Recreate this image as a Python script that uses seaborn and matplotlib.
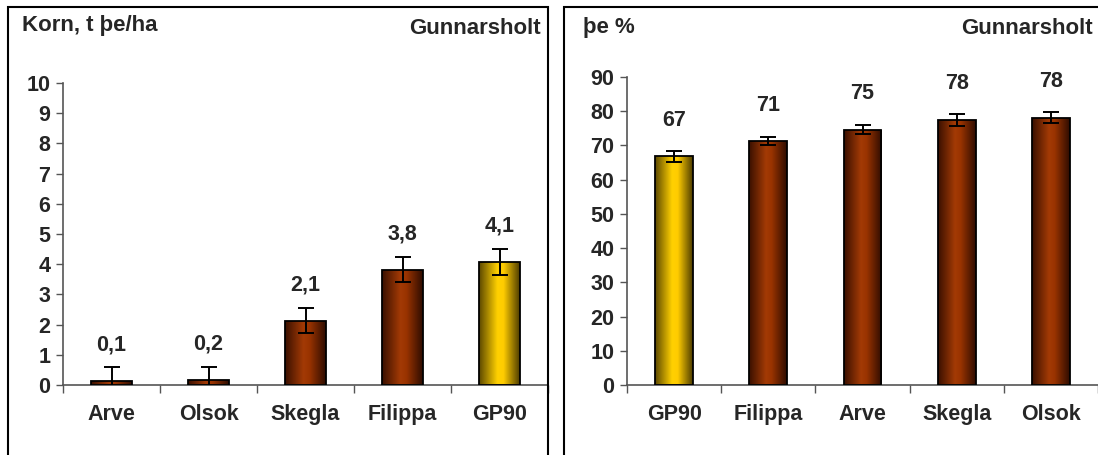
import numpy as np
import matplotlib.pyplot as plt
import seaborn as sns
from matplotlib.colors import LinearSegmentedColormap
from matplotlib.patches import Rectangle

sns.set_style("white")
plt.rcParams['font.family'] = ['Liberation Sans', 'DejaVu Sans']

# data
yield_names = ["Arve", "Olsok", "Skegla", "Filippa", "GP90"]
yield_vals = [0.14, 0.16, 2.13, 3.82, 4.08]
yield_err = [0.45, 0.44, 0.41, 0.42, 0.43]
yield_labels = ["0,1", "0,2", "2,1", "3,8", "4,1"]

dm_names = ["GP90", "Filippa", "Arve", "Skegla", "Olsok"]
dm_vals = [66.8, 71.2, 74.6, 77.5, 78.1]
dm_err = [1.7, 1.2, 1.4, 1.7, 1.6]
dm_labels = ["67", "71", "75", "78", "78"]

FS = 15.5
BROWN = "#993300"
YELLOW = "#FFCC00"
brown_cmap = LinearSegmentedColormap.from_list(
    "brown", [(0, "#3a1000"), (0.45, "#a33a05"), (0.6, "#993300"), (1, "#2e0c00")])
yellow_cmap = LinearSegmentedColormap.from_list(
    "yellow", [(0, "#5c4800"), (0.45, "#ffd000"), (0.6, "#ffcc00"), (1, "#4d3c00")])

W, H = 1098, 455
fig = plt.figure(figsize=(W / 100, H / 100), dpi=100)


def draw_panel(rect, names, vals, err, labels, ymax, ystep, width):
    ax = fig.add_axes(rect)
    pal = {n: (YELLOW if n == "GP90" else BROWN) for n in names}
    sns.barplot(x=names, y=vals, hue=names, palette=pal, legend=False,
                width=width, edgecolor="black", linewidth=1.3, saturation=1, ax=ax)
    # cylinder-like shading on every bar
    grad = np.linspace(0, 1, 256).reshape(1, -1)
    for p, n in zip(ax.patches, names):
        x, y = p.get_x(), p.get_y()
        w, h = p.get_width(), p.get_height()
        cmap = yellow_cmap if n == "GP90" else brown_cmap
        im = ax.imshow(grad, extent=[x, x + w, y, y + h], cmap=cmap,
                       aspect="auto", zorder=2, interpolation="bilinear")
        im.set_clip_path(p)
        p.set_facecolor("none")
        p.set_zorder(3)
    ax.errorbar(range(len(vals)), vals, yerr=err, fmt="none", ecolor="black",
                elinewidth=1.4, capsize=6, capthick=1.4, zorder=4)
    for i, (v, lab) in enumerate(zip(vals, labels)):
        ax.annotate(lab, (i, v), xytext=(0, 26), textcoords="offset points",
                    ha="center", va="center", fontsize=FS, fontweight="bold")
    ax.set_xlim(-0.5, len(vals) - 0.5)
    ax.set_ylim(0, ymax)
    ax.set_yticks(np.arange(0, ymax + 0.1, ystep))
    ax.set_xticks(np.arange(-0.5, len(vals) - 0.4, 1), minor=True)
    ax.tick_params(axis="x", which="major", length=0, pad=14, labelsize=FS)
    ax.tick_params(axis="x", which="minor", length=6, width=1, direction="out",
                   bottom=True, color="#555555")
    ax.tick_params(axis="y", length=5, width=1, direction="out", left=True,
                   pad=4, labelsize=FS, color="#555555")
    for lab in ax.get_xticklabels() + ax.get_yticklabels():
        lab.set_fontweight("bold")
    for s in ["top", "right"]:
        ax.spines[s].set_visible(False)
    for s in ["left", "bottom"]:
        ax.spines[s].set_color("#555555")
        ax.spines[s].set_linewidth(1.2)
    ax.set_xlabel("")
    ax.set_ylabel("")
    ax.patch.set_alpha(0)
    return ax


draw_panel([63 / W, (H - 385) / H, (548 - 63) / W, (385 - 83) / H],
           yield_names, yield_vals, yield_err, yield_labels, 10, 1, 0.42)
draw_panel([627 / W, (H - 385) / H, (W - 627) / W, (385 - 77) / H],
           dm_names, dm_vals, dm_err, dm_labels, 90, 10, 0.40)

# panel frames
fig.add_artist(Rectangle((8 / W, -0.05), (548 - 8) / W, (H - 7) / H + 0.05,
                         transform=fig.transFigure, fill=False,
                         edgecolor="black", linewidth=1.5))
fig.add_artist(Rectangle((564 / W, -0.05), (W + 10 - 564) / W, (H - 7) / H + 0.05,
                         transform=fig.transFigure, fill=False,
                         edgecolor="black", linewidth=1.5))

fig.text(22 / W, 1 - 25 / H, "Korn, t þe/ha", fontsize=16, fontweight="bold",
         ha="left", va="center")
fig.text(541 / W, 1 - 29 / H, "Gunnarsholt", fontsize=16, fontweight="bold",
         ha="right", va="center")
fig.text(583 / W, 1 - 28 / H, "þe %", fontsize=16, fontweight="bold",
         ha="left", va="center")
fig.text(1093 / W, 1 - 28 / H, "Gunnarsholt", fontsize=16, fontweight="bold",
         ha="right", va="center")

fig.savefig("out.png", dpi=100)
